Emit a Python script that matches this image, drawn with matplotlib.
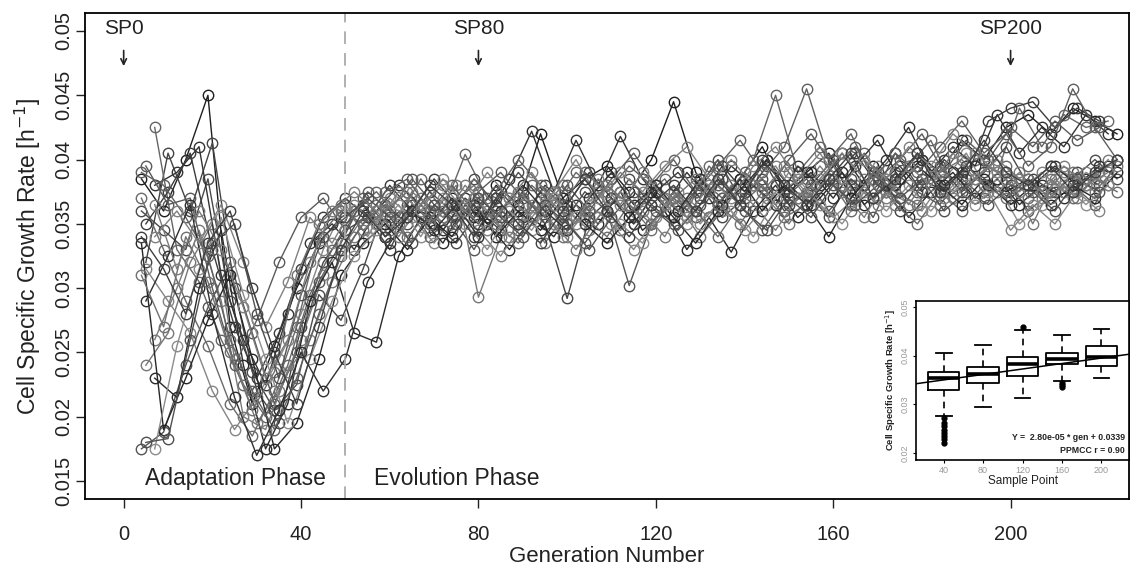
import matplotlib
matplotlib.use("Agg")
import matplotlib.pyplot as plt
import numpy as np

plt.rcParams['font.family'] = ['Liberation Sans', 'DejaVu Sans']

# sample generations (three sampling grids)
GEN_A = [4, 9, 14, 19, 24, 29, 34, 39, 44, 49, 54, 59, 64, 69, 74, 79, 84, 89, 94, 99, 104, 109, 114,
         119, 124, 129, 134, 139, 144, 149, 154, 159, 164, 169, 174, 179, 184, 189, 194, 199, 204, 209,
         214, 219, 224]
GEN_B = [5, 10, 15, 20, 25, 30, 35, 40, 45, 50, 55, 60, 65, 70, 75, 80, 85, 90, 95, 100, 105, 110, 115,
         120, 125, 130, 135, 140, 145, 150, 155, 160, 165, 170, 175, 180, 185, 190, 195, 200, 205, 210,
         215, 220]
GEN_C = [7, 12, 17, 22, 27, 32, 37, 42, 47, 52, 57, 62, 67, 72, 77, 82, 87, 92, 97, 102, 107, 112, 117,
         122, 127, 132, 137, 142, 147, 152, 157, 162, 167, 172, 177, 182, 187, 192, 197, 202, 207, 212,
         217, 222]

# growth rates, units of 1e-3 h^-1
rate_01 = [38.5, 36.0, 40.0, 45.0, 27.0, 21.0, 25.5, 30.0, 33.5, 35.5, 36.5, 34.0, 36.0, 35.0, 37.0,
           35.5, 38.0, 36.5, 42.0, 37.0, 38.5, 39.5, 37.5, 40.0, 44.5, 39.0, 36.5, 38.5, 41.0, 37.5,
           39.0, 40.5, 37.0, 39.5, 38.0, 40.5, 39.0, 41.5, 40.0, 42.5, 43.5, 42.0, 44.0, 43.0, 42.0]
rate_02 = [32.0, 40.5, 36.0, 41.3, 30.0, 22.0, 19.5, 27.0, 32.0, 34.5, 35.5, 33.0, 36.5, 35.0, 33.5,
           36.0, 34.5, 37.5, 35.0, 29.2, 35.5, 37.0, 35.0, 37.5, 36.0, 38.0, 35.5, 37.0, 39.5, 36.5,
           38.0, 40.0, 37.5, 39.0, 36.0, 38.5, 37.5, 39.5, 38.0, 37.0, 38.5, 37.5, 39.0, 38.0]
rate_03 = [42.5, 33.0, 30.5, 26.0, 22.5, 20.0, 24.0, 29.5, 33.0, 36.0, 37.5, 35.5, 38.5, 36.0, 40.4,
           37.0, 35.5, 38.0, 36.5, 39.0, 37.5, 34.5, 37.0, 38.5, 36.0, 39.5, 37.5, 40.0, 45.0, 39.0,
           41.0, 38.5, 40.5, 37.5, 39.5, 41.5, 38.0, 40.0, 39.0, 44.0, 41.0, 43.5, 42.5, 43.0]
rate_04 = [17.5, 18.8, 24.0, 28.5, 32.0, 26.5, 21.0, 25.0, 30.5, 33.5, 37.0, 35.0, 36.5, 34.0, 35.5,
           33.0, 36.0, 34.5, 37.5, 35.5, 33.5, 36.0, 30.2, 35.0, 37.0, 35.5, 38.0, 36.5, 34.5, 37.0,
           38.5, 36.0, 38.0, 35.5, 39.0, 37.5, 36.5, 38.5, 37.0, 38.5, 36.0, 37.5, 38.0, 36.5, 40.0]
rate_05 = [24.0, 26.5, 32.0, 35.0, 24.5, 19.5, 22.0, 26.0, 31.0, 33.5, 36.0, 34.5, 37.5, 36.0, 38.0,
           29.3, 34.0, 36.5, 33.5, 36.0, 34.5, 37.0, 35.5, 38.0, 36.5, 34.0, 36.0, 38.5, 37.0, 35.0,
           37.5, 39.5, 38.0, 36.5, 38.5, 40.0, 37.0, 38.0, 39.5, 38.5, 35.0, 38.5, 37.0, 39.0]
rate_06 = [23.0, 21.5, 30.0, 34.5, 24.0, 17.5, 21.0, 29.0, 32.0, 26.5, 25.8, 32.5, 35.5, 33.5, 36.5,
           35.0, 33.0, 35.5, 34.0, 36.5, 35.0, 37.5, 34.5, 36.0, 33.0, 35.5, 32.8, 36.0, 38.0, 35.5,
           37.0, 39.0, 36.5, 38.0, 35.5, 37.5, 39.0, 37.0, 38.5, 36.5, 38.0, 37.0, 38.5, 39.5]
rate_07 = [36.0, 34.5, 33.0, 38.5, 29.0, 23.5, 20.5, 22.5, 29.5, 27.5, 31.5, 36.5, 35.0, 37.5, 36.0,
           38.5, 36.5, 39.0, 37.0, 35.0, 37.5, 36.0, 38.5, 36.5, 35.0, 37.5, 40.0, 37.0, 38.5, 36.0,
           37.5, 35.5, 38.5, 37.0, 40.5, 38.0, 39.5, 37.5, 39.0, 41.0, 38.0, 39.5, 38.5, 40.0, 38.5]
rate_08 = [31.5, 29.0, 26.5, 22.0, 19.0, 21.5, 24.5, 28.0, 33.0, 36.5, 34.0, 37.0, 35.5, 33.5, 36.0,
           34.5, 32.5, 35.0, 37.0, 34.0, 36.5, 35.0, 33.0, 35.5, 37.5, 35.0, 37.0, 34.5, 36.5, 39.0,
           37.0, 35.5, 37.0, 39.5, 37.0, 36.0, 38.5, 40.5, 37.5, 34.5, 36.5, 35.0, 37.5, 36.0]
rate_09 = [38.0, 39.0, 41.0, 31.0, 26.0, 22.5, 28.0, 33.5, 35.0, 33.0, 36.0, 38.0, 36.5, 34.5, 37.0,
           35.5, 38.5, 42.2, 37.5, 41.5, 38.0, 41.8, 38.5, 36.5, 39.0, 37.0, 39.5, 38.0, 36.5, 39.5,
           38.0, 40.5, 38.0, 40.0, 42.5, 39.0, 41.0, 39.5, 43.5, 40.5, 42.5, 41.0, 43.5, 42.0]
rate_10 = [37.0, 33.0, 29.0, 25.5, 21.0, 18.5, 22.0, 27.0, 34.0, 36.0, 35.0, 36.5, 34.0, 36.0, 34.5,
           37.0, 35.0, 33.5, 36.0, 38.0, 35.5, 34.0, 36.5, 35.0, 37.5, 36.0, 34.0, 36.5, 38.0, 35.5,
           36.5, 38.5, 36.0, 38.5, 36.5, 35.0, 37.5, 36.0, 38.0, 39.5, 37.0, 38.5, 37.0, 38.5, 37.5]
rate_11 = [35.0, 37.5, 40.5, 33.0, 27.0, 23.0, 26.5, 31.5, 35.5, 37.0, 35.5, 38.0, 36.0, 38.5, 36.5,
           35.0, 37.5, 35.5, 38.0, 36.5, 39.0, 37.0, 35.0, 37.5, 39.0, 37.0, 39.5, 37.5, 40.0, 38.0,
           36.5, 38.5, 40.5, 38.0, 39.5, 37.5, 40.0, 38.5, 43.0, 44.0, 44.5, 42.5, 44.0, 43.0]
rate_12 = [26.0, 30.0, 34.5, 29.0, 20.0, 19.0, 23.5, 26.0, 30.5, 34.0, 36.5, 35.0, 37.0, 35.5, 38.0,
           36.0, 34.0, 36.5, 35.0, 33.0, 35.5, 37.5, 36.0, 34.0, 37.0, 35.5, 38.0, 36.5, 34.5, 37.0,
           39.5, 37.5, 35.5, 38.5, 36.5, 39.0, 37.0, 38.5, 37.5, 39.0, 37.0, 39.0, 38.0, 40.0]
rate_13 = [33.5, 19.0, 23.0, 27.5, 31.0, 24.5, 17.5, 19.5, 24.5, 31.0, 33.5, 35.0, 33.0, 35.5, 34.0,
           36.5, 34.0, 36.0, 34.5, 37.0, 35.0, 33.5, 35.5, 37.5, 35.5, 33.5, 36.0, 38.5, 36.0, 38.0,
           36.5, 34.0, 37.0, 39.0, 37.5, 39.5, 38.0, 36.5, 38.5, 37.5, 38.5, 36.5, 38.0, 37.0, 39.0]
rate_14 = [39.5, 36.5, 37.0, 30.0, 24.0, 27.5, 32.0, 35.5, 37.0, 34.5, 37.5, 36.0, 38.5, 36.5, 35.0,
           37.5, 39.0, 37.0, 35.5, 38.0, 36.0, 38.5, 40.5, 38.0, 36.0, 38.5, 37.0, 39.0, 37.5, 40.0,
           42.0, 39.5, 41.0, 38.5, 40.0, 42.0, 39.0, 41.5, 40.0, 42.5, 41.0, 43.0, 41.5, 42.5]
rate_15 = [17.5, 25.5, 31.5, 35.5, 29.5, 24.5, 19.5, 24.5, 29.0, 32.5, 34.5, 36.5, 34.0, 37.0, 35.0,
           33.0, 36.0, 34.5, 37.0, 35.5, 37.5, 35.0, 33.5, 36.5, 35.0, 37.5, 36.0, 34.0, 37.0, 38.5,
           36.5, 35.0, 37.5, 36.0, 38.0, 36.0, 38.0, 36.5, 38.0, 35.0, 36.5, 38.0, 36.5, 38.0]
rate_16 = [39.0, 38.0, 35.5, 32.5, 26.0, 22.0, 19.0, 23.0, 28.0, 32.5, 35.0, 37.5, 38.5, 36.0, 38.0,
           36.0, 37.5, 40.0, 38.0, 36.5, 39.0, 37.5, 39.5, 38.0, 40.0, 37.5, 39.5, 41.5, 39.0, 41.0,
           45.5, 40.0, 42.0, 38.5, 40.5, 39.0, 41.0, 43.0, 40.5, 42.0, 39.5, 41.0, 45.5, 42.5, 40.0]
rate_17 = [29.0, 32.5, 36.5, 28.0, 21.5, 17.0, 20.5, 25.0, 22.0, 24.5, 30.5, 33.5, 36.0, 34.5, 36.5,
           34.0, 36.0, 38.0, 36.0, 34.5, 37.0, 39.0, 36.5, 38.0, 36.0, 38.5, 36.5, 38.0, 40.0, 37.5,
           39.0, 37.0, 39.5, 41.5, 38.5, 40.0, 38.0, 39.5, 38.0, 36.5, 38.0, 39.5, 38.0, 39.5]
rate_18 = [34.0, 36.0, 33.5, 36.5, 32.0, 27.0, 30.5, 35.5, 33.5, 36.5, 35.0, 37.5, 36.0, 38.5, 36.5,
           39.0, 37.0, 35.5, 37.5, 40.0, 37.0, 39.0, 37.5, 39.5, 41.0, 38.5, 37.0, 39.5, 41.0, 38.5,
           40.5, 38.0, 40.0, 38.5, 41.0, 39.5, 42.0, 40.5, 39.0, 37.5, 39.0, 37.5, 39.0, 38.0]
rate_19 = [31.0, 27.0, 34.0, 30.5, 25.0, 20.5, 23.5, 31.0, 35.0, 36.5, 34.5, 36.0, 37.5, 35.0, 36.5,
           38.0, 35.5, 37.5, 36.0, 34.0, 36.0, 38.0, 36.5, 34.5, 37.0, 38.5, 36.5, 35.0, 37.5, 39.5,
           37.0, 38.5, 36.5, 39.0, 37.5, 36.5, 39.0, 40.0, 38.0, 37.0, 38.5, 37.0, 39.0, 37.5, 39.5]
rate_20 = [18.0, 18.3, 26.0, 33.5, 35.0, 28.0, 23.0, 29.5, 34.0, 35.5, 37.0, 35.5, 33.5, 36.5, 35.0,
           37.0, 35.5, 34.0, 36.5, 35.0, 33.0, 35.5, 37.5, 36.0, 34.5, 36.5, 38.5, 36.0, 34.5, 37.0,
           35.5, 38.0, 36.5, 38.0, 37.0, 38.5, 36.0, 37.5, 36.5, 38.0, 37.5, 36.0, 38.5, 37.5]
rate_21 = [36.5, 31.5, 36.0, 33.0, 28.5, 23.0, 26.0, 32.0, 36.0, 37.5, 36.0, 34.0, 36.5, 38.0, 36.0,
           34.5, 37.0, 39.0, 36.5, 35.0, 38.5, 36.5, 39.0, 37.0, 35.5, 38.0, 40.0, 38.0, 39.5, 37.0,
           38.5, 40.5, 38.5, 37.0, 39.5, 38.0, 40.5, 38.5, 40.0, 38.5, 37.5, 39.5, 38.0, 39.0]
rate_22 = [34.0, 31.5, 28.0, 33.5, 36.0, 30.0, 25.0, 21.0, 27.0, 33.0, 36.0, 34.0, 35.5, 38.0, 36.5,
           34.0, 37.0, 35.0, 33.5, 36.0, 38.5, 36.0, 34.0, 36.5, 38.0, 36.0, 38.5, 36.5, 40.0, 38.0,
           36.5, 38.5, 40.5, 37.0, 38.5, 40.5, 37.5, 39.0, 41.5, 39.0, 38.0, 39.5, 37.5, 39.0, 40.0]

# inset boxplot summary (sample points 40..200)
sample_points = ['40', '80', '120', '160', '200']
box_q1 = [0.0329, 0.0344, 0.0358, 0.0383, 0.0379]
box_med = [0.0354, 0.0362, 0.0383, 0.0393, 0.0397]
box_q3 = [0.0366, 0.0377, 0.0397, 0.0405, 0.0420]
whisk_lo = [0.0276, 0.0294, 0.0313, 0.0349, 0.0354]
whisk_hi = [0.0405, 0.0422, 0.0453, 0.0442, 0.0455]
outliers = [[0.0272, 0.0262, 0.0255, 0.0248, 0.0242, 0.0236, 0.0229, 0.0221], [], [0.0459],
            [0.0344, 0.0340, 0.0336], []]
fit_slope = 2.80e-05
fit_icept = 0.0339
fit_r = 0.90

series = [(GEN_A, rate_01), (GEN_B, rate_02), (GEN_C, rate_03), (GEN_A, rate_04), (GEN_B, rate_05),
          (GEN_C, rate_06), (GEN_A, rate_07), (GEN_B, rate_08), (GEN_C, rate_09), (GEN_A, rate_10),
          (GEN_B, rate_11), (GEN_C, rate_12), (GEN_A, rate_13), (GEN_B, rate_14), (GEN_C, rate_15),
          (GEN_A, rate_16), (GEN_B, rate_17), (GEN_C, rate_18), (GEN_A, rate_19), (GEN_B, rate_20),
          (GEN_C, rate_21), (GEN_A, rate_22)]
greys = ['#1e1e1e', '#444444', '#666666', '#555555', '#777777', '#2a2a2a', '#4a4a4a', '#858585',
         '#333333', '#6a6a6a', '#3c3c3c', '#7a7a7a', '#262626', '#5a5a5a', '#8c8c8c', '#606060',
         '#303030', '#808080', '#707070', '#505050', '#7c7c7c', '#404040']

fig = plt.figure(figsize=(11.37, 5.76), dpi=100)
ax = fig.add_axes([85 / 1137, 77 / 576, 1044 / 1137, 486 / 576])

for (gen, rate), col in zip(series, greys):
    ax.plot(gen, np.array(rate) / 1000, color=col, lw=1.0, marker='o', ms=7.5,
            mfc='none', mec=col, mew=1.0)

ax.axvline(50, color='#aaaaaa', lw=1.3, ls=(0, (7, 5)))
ax.set_xlim(-8.72, 226.7)
ax.set_ylim(0.0136, 0.0514)
ax.set_xticks([0, 40, 80, 120, 160, 200])
ax.set_yticks([0.015, 0.02, 0.025, 0.03, 0.035, 0.04, 0.045, 0.05])
ax.set_yticklabels(['0.015', '0.02', '0.025', '0.03', '0.035', '0.04', '0.045', '0.05'],
                   rotation=90, va='center')
ax.tick_params(direction='out', length=6.5, width=1, labelsize=14.5, colors='#222222')
ax.tick_params(axis='x', pad=12)
ax.tick_params(axis='y', pad=2)
for s in ax.spines.values():
    s.set_linewidth(1.3)
ax.set_xlabel('Generation Number', fontsize=16, color='#222222', labelpad=2)
ax.set_ylabel('Cell Specific Growth Rate [h$^{-1}$]', fontsize=16.5, color='#222222', labelpad=8)

for g, lab in [(0, 'SP0'), (80, 'SP80'), (200, 'SP200')]:
    ax.text(g, 0.0502, lab, ha='center', va='center', fontsize=15, color='#222222')
    ax.annotate('', xy=(g, 0.04705), xytext=(g, 0.0487),
                arrowprops=dict(arrowstyle='->', color='#222222', lw=1.2))
ax.text(25.2, 0.0152, 'Adaptation Phase', ha='center', va='center', fontsize=16.5, color='#222222')
ax.text(75, 0.0152, 'Evolution Phase', ha='center', va='center', fontsize=16.5, color='#222222')

# inset
ins = fig.add_axes([916 / 1137, 116 / 576, 213 / 1137, 159 / 576])
ins.set_facecolor('white')
stats = []
for i in range(5):
    stats.append(dict(med=box_med[i], q1=box_q1[i], q3=box_q3[i], whislo=whisk_lo[i],
                      whishi=whisk_hi[i], fliers=outliers[i]))
ins.bxp(stats, positions=[1, 2, 3, 4, 5], widths=0.8, capwidths=0.4,
        boxprops=dict(color='black', lw=1.3),
        medianprops=dict(color='black', lw=2.6),
        whiskerprops=dict(color='black', lw=1.2, ls=(0, (4, 3))),
        capprops=dict(color='black', lw=1.3),
        flierprops=dict(marker='o', ms=3.5, mfc='black', mec='black'))
xs = np.array([0.3, 5.7])
ins.plot(xs, fit_slope * xs * 40 + fit_icept, color='black', lw=1.1, zorder=1)
ins.set_xlim(0.3, 5.7)
ins.set_ylim(0.0186, 0.0512)
ins.set_xticks([1, 2, 3, 4, 5])
ins.set_xticklabels(sample_points)
ins.set_yticks([0.02, 0.03, 0.04, 0.05])
ins.set_yticklabels(['0.02', '0.03', '0.04', '0.05'], rotation=90, va='center')
ins.tick_params(direction='out', length=2.5, width=0.8, labelsize=6.5, colors='#999999', pad=2)
ins.tick_params(axis='both', which='both', color='black')
for s in ins.spines.values():
    s.set_linewidth(1.2)
ins.set_xlabel('Sample Point', fontsize=8.5, color='#222222', labelpad=0)
ins.set_ylabel('Cell Specific Growth Rate [h$^{-1}$]', fontsize=6.8, color='#222222',
               fontweight='bold', labelpad=2)
ins.text(0.98, 0.14, 'Y =  %.2e * gen + %.4f' % (fit_slope, fit_icept), transform=ins.transAxes,
         ha='right', va='center', fontsize=6.3, fontweight='bold', color='#222222')
ins.text(0.98, 0.06, 'PPMCC r = %.2f' % fit_r, transform=ins.transAxes,
         ha='right', va='center', fontsize=6.3, fontweight='bold', color='#222222')

fig.savefig('out.png', dpi=100)
